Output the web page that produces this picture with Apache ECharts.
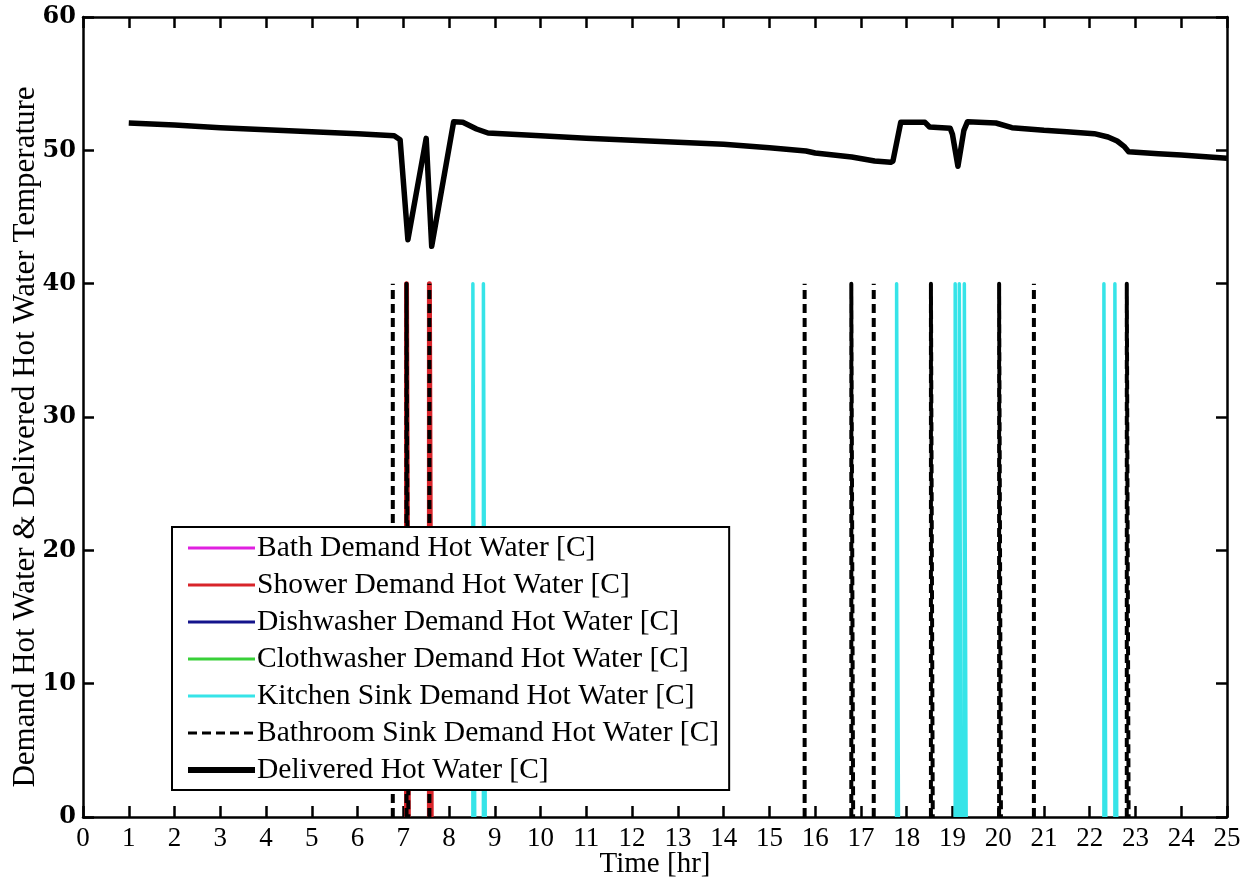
<!DOCTYPE html>
<html>
<head>
<meta charset="utf-8">
<title>Demand and Delivered Hot Water Temperature</title>
<script src="https://cdn.jsdelivr.net/npm/echarts@6/dist/echarts.min.js"></script>
<style>
  html, body { margin: 0; padding: 0; background: #ffffff; }
  #chart { width: 1252px; height: 886px; }
</style>
</head>
<body>
<div id="chart"></div>
<script>
// Delivered hot water temperature [C] over the day: [time hr, temperature]
const deliveredTemp = [
  [1.0, 52.05], [2, 51.9], [3, 51.7], [4, 51.55], [5, 51.4], [6, 51.25],
  [6.8, 51.1], [6.93, 50.8], [7.1, 43.3], [7.5, 50.9], [7.62, 42.8],
  [8.1, 52.15], [8.3, 52.1], [8.6, 51.6], [8.85, 51.3], [10, 51.1],
  [11, 50.9], [12, 50.75], [13, 50.6], [14, 50.45], [15, 50.2],
  [15.8, 49.95], [16, 49.8], [16.8, 49.5], [17.3, 49.2], [17.65, 49.1],
  [17.7, 49.2], [17.87, 52.1], [18.4, 52.1], [18.5, 51.75], [18.95, 51.65],
  [19.0, 51.2], [19.12, 48.8], [19.25, 51.5], [19.33, 52.15], [19.95, 52.05],
  [20.3, 51.7], [21, 51.5], [21.5, 51.4], [22.1, 51.25], [22.4, 51.0],
  [22.6, 50.7], [22.75, 50.3], [22.85, 49.9], [23.5, 49.75], [24, 49.65],
  [25, 49.4]
];

// Draw-off events for each fixture: start time [hr] and duration [hr]
const demandLevel = 40;
const bathEvents = [];
const bathDurations = [];
const showerEvents = [7.07, 7.57];
const showerDurations = [0.04, 0.04];
const dishwasherEvents = [];
const dishwasherDurations = [];
const clothwasherEvents = [];
const clothwasherDurations = [];
const kitchenSinkEvents = [8.52, 8.75, 17.78, 19.06, 19.15, 19.26, 22.31, 22.55];
const kitchenSinkDurations = [0.04, 0.04, 0.04, 0.04, 0.04, 0.04, 0.04, 0.04];
const bathroomSinkEvents = [6.77, 7.07, 7.57, 15.77, 16.79, 17.28, 18.53, 20.02, 20.78, 22.81];
const bathroomSinkDurations = [0, 0.04, 0, 0, 0.04, 0, 0.04, 0.04, 0, 0.04];

// Legend / series names
const seriesNames = [
  'Bath Demand Hot Water [C]',
  'Shower Demand Hot Water [C]',
  'Dishwasher Demand Hot Water [C]',
  'Clothwasher Demand Hot Water [C]',
  'Kitchen Sink Demand Hot Water [C]',
  'Bathroom Sink Demand Hot Water [C]',
  'Delivered Hot Water [C]'
];

// Turn event times + durations into rectangular pulses, each a separate segment
function pulses(times, durations) {
  const out = [];
  times.forEach(function (t, i) {
    const d = durations[i];
    if (d > 0) {
      out.push([t, 0], [t, demandLevel], [t + d, demandLevel], [t + d, 0]);
    } else {
      out.push([t, 0], [t, demandLevel]);
    }
    out.push([t + d, '-']);
  });
  return out;
}

function demandSeries(name, events, durations, color, width, lineType) {
  return {
    name: name,
    type: 'line',
    data: pulses(events, durations),
    symbol: 'none',
    connectNulls: false,
    animation: false,
    lineStyle: { color: color, width: width, type: lineType || 'solid', join: 'round' },
    itemStyle: { color: color },
    z: 3
  };
}

const serifFont = '"Liberation Serif", "Times New Roman", serif';

const chart = echarts.init(document.getElementById('chart'), null, { renderer: 'canvas' });

const axisLine = { show: true, onZero: false, lineStyle: { color: '#000', width: 2.5 } };
const tick = { show: true, inside: true, length: 11, lineStyle: { color: '#000', width: 2.5 } };

// Legend entries: thin lines for the demands, thick line for delivered water
const legendData = seriesNames.map(function (n, i) {
  return { name: n, lineStyle: { width: i === 6 ? 6 : 3 } };
});

chart.setOption({
  backgroundColor: '#ffffff',
  animation: false,
  grid: { left: 83, right: 25, top: 17, bottom: 69, containLabel: false, outerBoundsMode: 'none' },
  legend: {
    orient: 'vertical',
    left: 172,
    top: 527,
    padding: [6, 10, 5, 13],
    itemGap: 7,
    itemWidth: 67,
    itemHeight: 14,
    backgroundColor: '#ffffff',
    borderColor: '#000',
    borderWidth: 2,
    borderRadius: 0,
    itemStyle: { opacity: 0 },
    lineStyle: { width: 3 },
    data: legendData,
    textStyle: { fontFamily: serifFont, fontSize: 29.5, color: '#000', padding: [0, 0, 0, -3] },
    z: 10
  },
  xAxis: [
    {
      type: 'value',
      min: 0,
      max: 25,
      interval: 1,
      position: 'bottom',
      name: 'Time [hr]',
      nameLocation: 'middle',
      nameGap: 33,
      nameMoveOverlap: false,
      nameTextStyle: { fontFamily: serifFont, fontSize: 29, color: '#000' },
      axisLine: axisLine,
      axisTick: tick,
      axisLabel: { fontFamily: serifFont, fontSize: 27, color: '#000', margin: 8 },
      splitLine: { show: false }
    },
    {
      type: 'value',
      min: 0,
      max: 25,
      interval: 1,
      position: 'top',
      axisLine: axisLine,
      axisTick: tick,
      axisLabel: { show: false },
      splitLine: { show: false }
    }
  ],
  yAxis: [
    {
      type: 'value',
      min: 0,
      max: 60,
      interval: 10,
      position: 'left',
      name: 'Demand Hot Water & Delivered Hot Water Temperature',
      nameLocation: 'middle',
      nameGap: 42,
      nameMoveOverlap: false,
      nameTextStyle: { fontFamily: serifFont, fontSize: 31, color: '#000', padding: [0, 40, 0, 0] },
      axisLine: axisLine,
      axisTick: tick,
      axisLabel: {
        fontFamily: '"DejaVu Serif", serif',
        fontWeight: 'bold',
        fontSize: 24,
        color: '#000',
        margin: 7
      },
      splitLine: { show: false }
    },
    {
      type: 'value',
      min: 0,
      max: 60,
      interval: 10,
      position: 'right',
      axisLine: axisLine,
      axisTick: tick,
      axisLabel: { show: false },
      splitLine: { show: false }
    }
  ],
  series: [
    demandSeries(seriesNames[0], bathEvents, bathDurations, '#e020e0', 3),
    demandSeries(seriesNames[1], showerEvents, showerDurations, '#d8242a', 5),
    demandSeries(seriesNames[2], dishwasherEvents, dishwasherDurations, '#14148c', 3),
    demandSeries(seriesNames[3], clothwasherEvents, clothwasherDurations, '#38d038', 3),
    demandSeries(seriesNames[4], kitchenSinkEvents, kitchenSinkDurations, '#36e4e8', 3.5),
    demandSeries(seriesNames[5], bathroomSinkEvents, bathroomSinkDurations, '#000000', 4, [9, 5]),
    {
      name: seriesNames[6],
      type: 'line',
      data: deliveredTemp,
      symbol: 'none',
      animation: false,
      lineStyle: { color: '#000', width: 5.5, join: 'round' },
      itemStyle: { color: '#000' },
      z: 4
    }
  ]
});
</script>
</body>
</html>
